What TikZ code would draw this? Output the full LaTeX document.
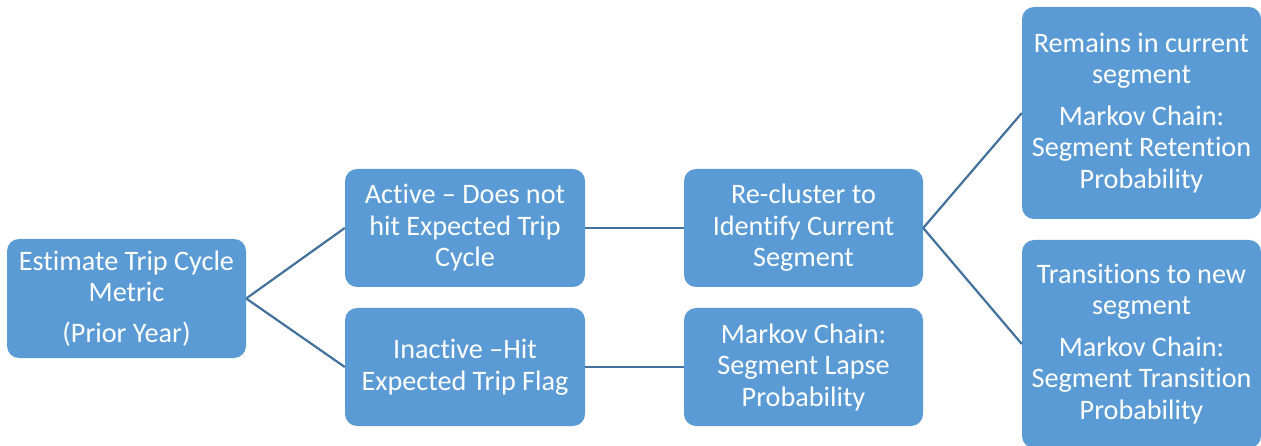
\documentclass[tikz,border=0pt]{standalone}
\usepackage{fontspec}
\setmainfont{Carlito}[Ligatures=NoCommon]
\definecolor{boxblue}{RGB}{91,155,213}
\definecolor{linkblue}{RGB}{65,113,156}
\begin{document}
\begin{tikzpicture}[x=1pt,y=-1pt,
  stage/.style={rectangle, rounded corners=12pt, fill=boxblue, draw=none,
    text=white, align=center, inner sep=0pt,
    font=\fontsize{28.2}{31.5}\selectfont},
  link/.style={draw=linkblue, line width=2.2pt}]
\useasboundingbox (0,0) rectangle (1261,446);
% first column
\node[stage, minimum width=239pt, minimum height=119pt] (est) at (126.5,298.5)
  {Estimate Trip Cycle\\Metric\\[9pt](Prior Year)};
% second column
\node[stage, minimum width=240pt, minimum height=118pt] (act) at (465,228)
  {Active -- Does not\\hit Expected Trip\\Cycle};
\node[stage, minimum width=240pt, minimum height=118pt] (inact) at (465,367)
  {Inactive --Hit\\Expected Trip Flag};
% third column
\node[stage, minimum width=239pt, minimum height=118pt] (reclus) at (803.5,228)
  {Re-cluster to\\Identify Current\\Segment};
\node[stage, minimum width=239pt, minimum height=118pt] (lapse) at (803.5,367)
  {Markov Chain:\\Segment Lapse\\Probability};
% fourth column
\node[stage, minimum width=239pt, minimum height=212pt] (keep) at (1141.5,113)
  {Remains in current\\segment\\[10pt]Markov Chain:\\Segment Retention\\Probability};
\node[stage, minimum width=239pt, minimum height=208pt] (move) at (1141.5,344)
  {Transitions to new\\segment\\[10pt]Markov Chain:\\Segment Transition\\Probability};
% connectors
\draw[link] (est.east) -- (act.west);
\draw[link] (est.east) -- (inact.west);
\draw[link] (act.east) -- (reclus.west);
\draw[link] (inact.east) -- (lapse.west);
\draw[link] (reclus.east) -- (keep.west);
\draw[link] (reclus.east) -- (move.west);
\end{tikzpicture}
\end{document}
